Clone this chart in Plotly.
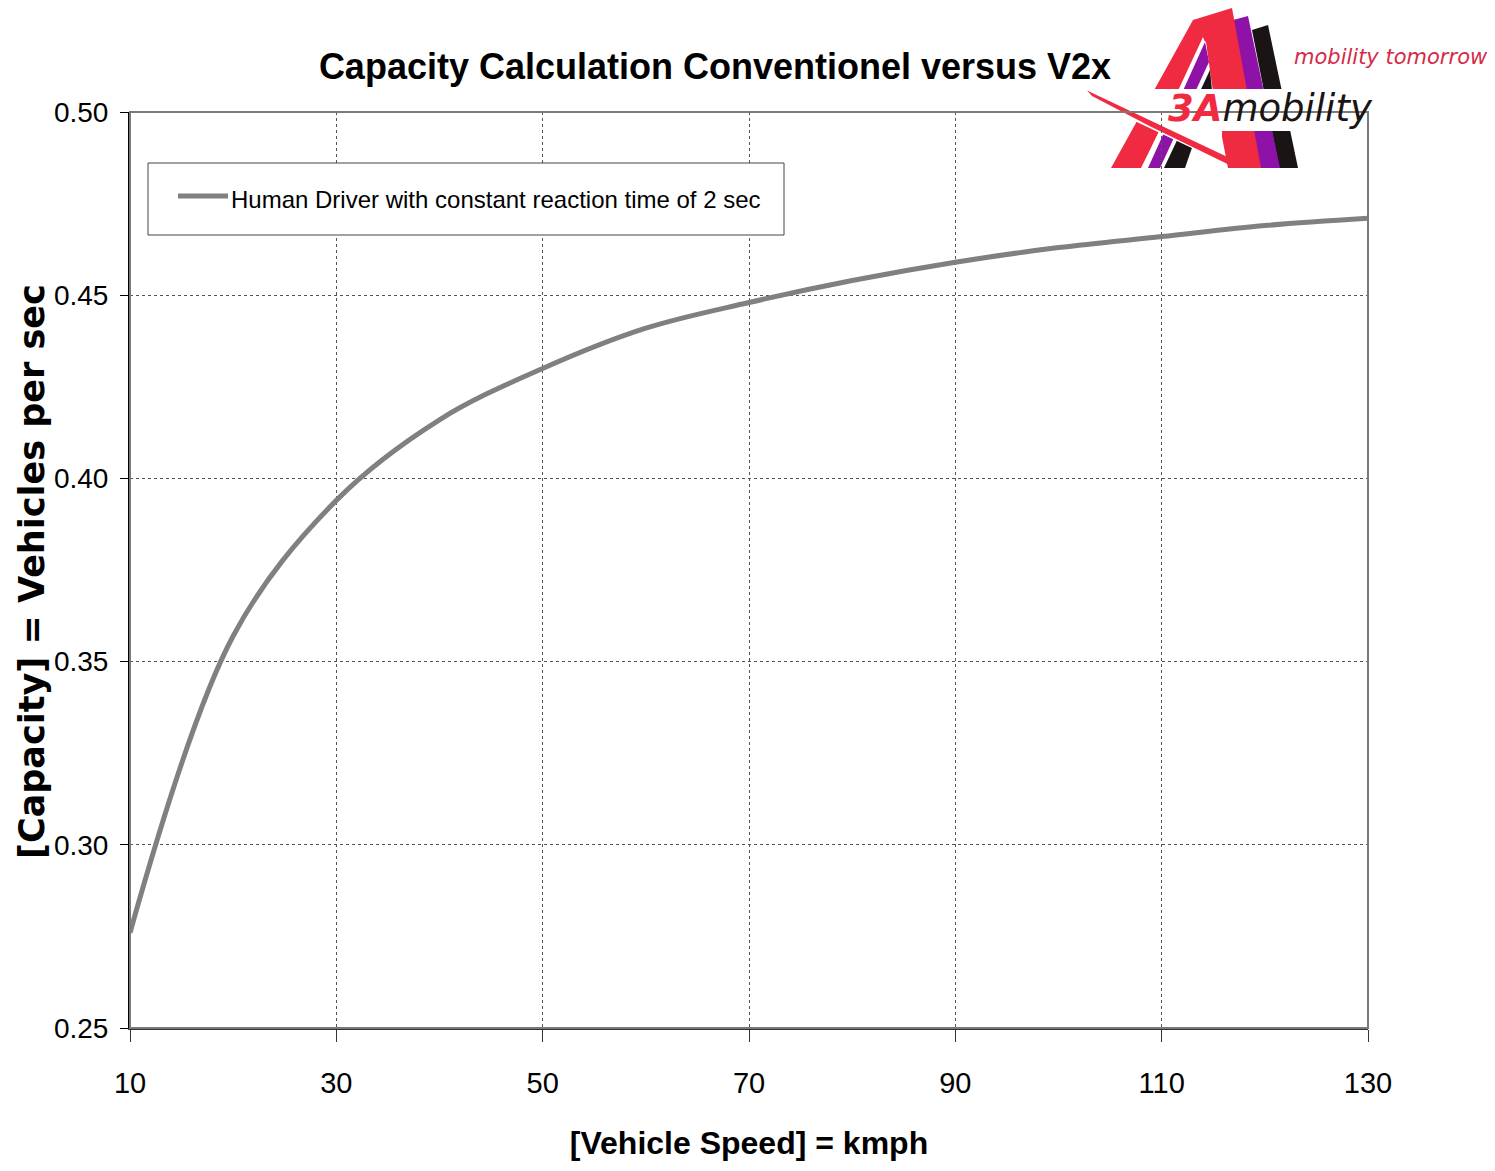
import plotly.graph_objects as go

# ---- data ----
speed_kmph = [10, 20, 30, 40, 50, 60, 70, 80, 90, 100, 110, 120, 130]
capacity_vps = [0.276, 0.357, 0.394, 0.416, 0.430, 0.441, 0.448, 0.454,
                0.459, 0.463, 0.466, 0.469, 0.471]
series_name = "Human Driver with constant reaction time of 2 sec"
x_ticks = [10, 30, 50, 70, 90, 110, 130]
y_ticks = [0.25, 0.30, 0.35, 0.40, 0.45, 0.50]

W, H = 1495, 1171
L, R, T, B = 130, 127, 112, 143
PW, PH = W - L - R, H - T - B

def px(x):
    return (x - L) / PW

def py(y):
    return (H - B - y) / PH

def path(pts, closed=True):
    s = "M " + " L ".join(f"{px(a):.5f},{py(b):.5f}" for a, b in pts)
    return s + (" Z" if closed else "")

def yu(x):  # upper edge of the logo swoosh (pixel space)
    return 92 + 0.472 * (x - 1090)

FONT = "Liberation Sans, Arial, sans-serif"
LINE_GREY = "#808080"

fig = go.Figure()
fig.add_trace(go.Scatter(
    x=speed_kmph, y=capacity_vps, mode="lines", name=series_name,
    line=dict(color=LINE_GREY, width=5, shape="spline", smoothing=1.0), showlegend=False,
))

RED, PURPLE, BLACK, WHITE = "#f02a40", "#8e12a8", "#1a1414", "#ffffff"
shapes = []
# decorative logo (3A mobility)
logo = [
    (BLACK, [(1252, 30), (1268, 25), (1298, 168), (1279, 168)]),
    (PURPLE, [(1233, 20), (1248, 16), (1280, 168), (1259, 168)]),
    (RED, [(1111, 168), (1141, 168), (1182, 85), (1203, 40), (1206, 42), (1212, 85),
           (1228, 168), (1261, 168), (1232, 8), (1193, 20)]),
    (WHITE, [(1203, 37), (1142, 168), (1227, 168), (1211, 85), (1206, 45)]),
    (PURPLE, [(1205, 42), (1148, 168), (1160, 168), (1209, 62)]),
    (BLACK, [(1210, 70), (1164, 168), (1185, 168), (1212, 90)]),
    (WHITE, [(1095, 89), (1302, 89), (1302, 131), (1222, 131), (1222, yu(1222) + 8),
             (1095, yu(1095) + 8)]),
    (RED, [(1087, yu(1087)), (1228, yu(1228)), (1228, yu(1228) + 7),
           (1150, yu(1150) + 6), (1092, yu(1092) + 3)]),
]
for col, pts in logo:
    shapes.append(dict(type="path", xref="paper", yref="paper", path=path(pts),
                       fillcolor=col, line=dict(width=0), layer="below"))
# plot frame (top/right in grey)
shapes.append(dict(type="rect", xref="paper", yref="paper", x0=0, y0=0, x1=1, y1=1,
                   line=dict(color="#7a7a7a", width=2), layer="above"))
# legend box with sample line
shapes.append(dict(type="rect", xref="paper", yref="paper", x0=px(148), y0=py(235),
                   x1=px(784), y1=py(163), line=dict(color="#444", width=1),
                   fillcolor="white", layer="above"))
shapes.append(dict(type="path", xref="paper", yref="paper",
                   path=path([(178, 196), (228, 196)], closed=False),
                   line=dict(color=LINE_GREY, width=5), layer="above"))

annotations = [
    dict(text=series_name, xref="paper", yref="paper", x=px(229), y=py(199),
         showarrow=False, font=dict(family=FONT, size=24, color="black"),
         xanchor="left", yanchor="middle"),
    dict(text="<i>mobility tomorrow</i>", xref="paper", yref="paper", x=px(1391), y=py(57),
         showarrow=False, font=dict(family="DejaVu Sans", size=21, color="#d62a48"),
         xanchor="center", yanchor="middle"),
    dict(text="<b><i><span style='color:#f02a40'>3A</span></i></b><i>mobility</i>",
         xref="paper", yref="paper", x=px(1166), y=py(108),
         showarrow=False, font=dict(family="DejaVu Sans", size=37, color="#1a1414"),
         xanchor="left", yanchor="middle"),
    dict(text="<b>[Capacity] = Vehicles per sec</b>", xref="paper", yref="paper",
         x=px(32), y=py(572), textangle=-90, showarrow=False,
         font=dict(family="DejaVu Sans, sans-serif", size=35, color="black"),
         xanchor="center", yanchor="middle"),
]

fig.update_layout(
    width=W, height=H, autosize=False,
    margin=dict(l=L, r=R, t=T, b=B, pad=0),
    paper_bgcolor="white", plot_bgcolor="rgba(0,0,0,0)",
    title=dict(text="<b>Capacity Calculation Conventionel versus V2x</b>",
               x=px(715), xanchor="center", xref="paper", y=1 - 66 / H, yanchor="middle",
               font=dict(family=FONT, size=36, color="black")),
    shapes=shapes, annotations=annotations,
    showlegend=False,
    xaxis=dict(range=[10, 130], tickvals=x_ticks, ticktext=[str(v) for v in x_ticks],
               showgrid=True, gridcolor="#555", griddash="dot", gridwidth=1,
               showline=True, linecolor="#333", linewidth=2,
               ticks="outside", ticklen=12, tickcolor="#333", tickwidth=1,
               tickfont=dict(family=FONT, size=29, color="black"),
               ticklabelstandoff=16, zeroline=False,
               title=dict(text="<b>[Vehicle Speed] = kmph</b>", standoff=34,
                          font=dict(family=FONT, size=32, color="black"))),
    yaxis=dict(range=[0.25, 0.50], tickvals=y_ticks, tickformat=".2f",
               showgrid=True, gridcolor="#555", griddash="dot", gridwidth=1,
               showline=True, linecolor="black", linewidth=2,
               ticks="outside", ticklen=8, tickcolor="black", tickwidth=1,
               tickfont=dict(family=FONT, size=28, color="black"),
               ticklabelstandoff=6, zeroline=False),
)

fig.write_html("out.html")
